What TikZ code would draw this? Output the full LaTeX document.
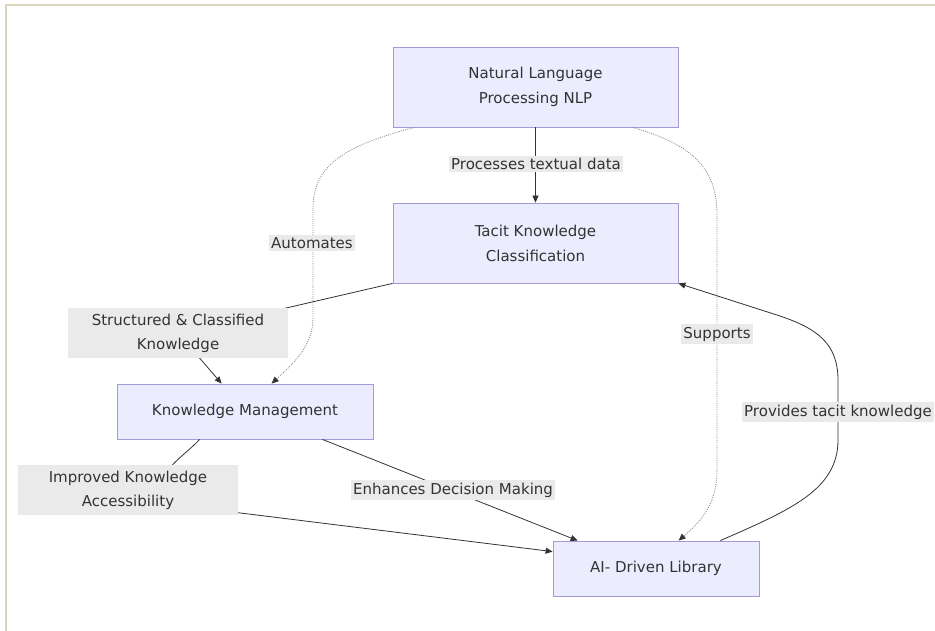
\documentclass[tikz,border=0pt]{standalone}
\usepackage{fontspec}
\setmainfont{DejaVu Sans}
\usetikzlibrary{arrows.meta}
\definecolor{nodefill}{HTML}{ECECFF}
\definecolor{nodeline}{HTML}{A49AD8}
\definecolor{txt}{HTML}{333333}
\definecolor{lblbg}{HTML}{EAEAEA}
\definecolor{framec}{HTML}{DAD5BC}
\definecolor{dotc}{HTML}{8A8A8A}
\begin{document}
\begin{tikzpicture}[x=1pt,y=-1pt,
  box/.style={draw=nodeline, line width=0.8pt, fill=nodefill, text=txt,
    font=\fontsize{15}{25}\selectfont, align=center, inner sep=0pt},
  lbl/.style={fill=lblbg, text=txt, font=\fontsize{15}{24}\selectfont,
    inner xsep=2pt, inner ysep=2.5pt, align=center},
  biglbl/.style={lbl, minimum width=220pt, minimum height=50pt},
  solidedge/.style={draw=txt, line width=0.8pt, -{Triangle[length=7pt,width=6pt]}},
  dotedge/.style={draw=dotc, line width=0.8pt, dash pattern=on 1pt off 1.2pt,
    -{Triangle[length=7pt,width=6pt,color=txt]}}
]
\useasboundingbox (0,0) rectangle (935,631);
\fill[white] (0,0) rectangle (935,631);
\draw[framec, line width=1.5pt] (6,631) -- (6,5) -- (935,5);

% nodes
\node[box, minimum width=285pt, minimum height=80pt] (nlp) at (535.5,87) {Natural Language\\Processing NLP};
\node[box, minimum width=285pt, minimum height=80pt] (tacit) at (535.5,243) {Tacit Knowledge\\Classification};
\node[box, minimum width=256pt, minimum height=55pt] (km) at (245,411.5) {Knowledge Management};
\node[box, minimum width=206pt, minimum height=55pt] (ai) at (656,568.5) {AI- Driven Library};

% label anchor points
\coordinate (c1) at (536,164);
\coordinate (c2) at (312,243);
\coordinate (c3) at (178,333);
\coordinate (c4) at (717,334);
\coordinate (c5) at (838,412);
\coordinate (c6) at (453,490);
\coordinate (c7) at (128,490);

% edges
\draw[solidedge] (nlp.south) -- (tacit.north);
\draw[dotedge] ([xshift=22pt]nlp.south west) .. controls (335,148) and (313,170) .. (313,210)
  -- (313,318) .. controls (313,345) and (295,362) .. ([xshift=155pt]km.north west);
\draw[solidedge] (tacit.south west) -- (c3) -- ([xshift=105pt]km.north west);
\draw[dotedge] ([xshift=-46pt]nlp.south east) .. controls (695,145) and (717,170) .. (717,215)
  -- (717,470) .. controls (717,505) and (700,522) .. ([xshift=126pt]ai.north west);
\draw[solidedge] ([xshift=-39pt]ai.north east) .. controls (790,510) and (838,490) .. (838,440)
  -- (838,380) .. controls (838,342) and (815,328) .. (780,316) -- (tacit.south east);
\draw[solidedge] ([xshift=-51pt]km.south east) -- ([xshift=25pt]ai.north west);
\draw[solidedge] ([xshift=83pt]km.south west) .. controls (188,452) and (172,462) .. (165,475)
  -- (200,508) -- ([yshift=-11pt]ai.north west);

% labels
\node[lbl] (l1) at (c1) {Processes textual data};
\node[lbl] (l2) at (c2) {Automates};
\node[biglbl] (l3) at (c3) {Structured \& Classified\\Knowledge};
\node[lbl] (l4) at (c4) {Supports};
\node[lbl] (l5) at (c5) {Provides tacit knowledge};
\node[lbl] (l6) at (c6) {Enhances Decision Making};
\node[biglbl] (l7) at (c7) {Improved Knowledge\\Accessibility};
\end{tikzpicture}
\end{document}
